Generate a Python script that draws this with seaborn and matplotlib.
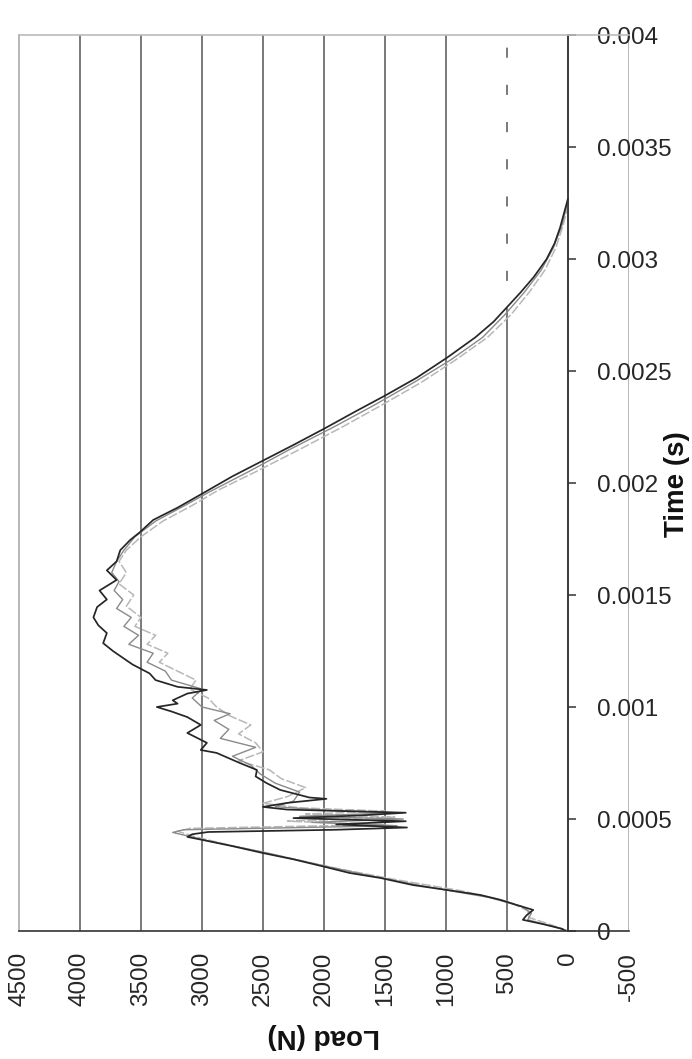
import matplotlib
matplotlib.use("Agg")
import matplotlib.pyplot as plt
import seaborn as sns
import numpy as np

sns.set_theme(style="white")
plt.rcParams['font.family'] = ['Liberation Sans', 'DejaVu Sans']

# Test 1 (dark trace): time in ms, load in N
time_a = [0.000, 0.010, 0.030, 0.050, 0.070, 0.094, 0.116, 0.140, 0.161, 0.183, 0.205, 0.237, 0.259, 0.286, 0.320,
          0.348, 0.380, 0.406, 0.420, 0.432, 0.442, 0.452, 0.462, 0.476, 0.490, 0.504, 0.516, 0.528, 0.542, 0.554,
          0.572, 0.590, 0.596, 0.630, 0.660, 0.690, 0.719, 0.750, 0.795, 0.808, 0.840, 0.884, 0.920, 0.955, 0.980,
          1.000, 1.015, 1.030, 1.060, 1.076, 1.090, 1.120, 1.150, 1.190, 1.250, 1.285, 1.330, 1.365, 1.400, 1.446,
          1.480, 1.520, 1.567, 1.610, 1.650, 1.700, 1.745, 1.780, 1.835, 1.890, 1.955, 2.030, 2.100, 2.170, 2.245,
          2.320, 2.390, 2.470, 2.560, 2.650, 2.720, 2.785, 2.850, 2.920, 3.000, 3.070, 3.140, 3.200, 3.270]
load_a = [20, 50, 200, 370, 340, 285, 420, 560, 720, 990, 1270, 1540, 1790, 1990, 2250,
          2500, 2760, 2990, 3120, 3080, 2950, 1900, 1320, 1900, 1330, 2250, 1700, 1330, 2300, 2500,
          2300, 1980, 2120, 2360, 2470, 2560, 2550, 2690, 2880, 3010, 2960, 3120, 3010, 3120, 3250,
          3370, 3200, 3240, 3120, 2960, 3200, 3380, 3430, 3570, 3730, 3810, 3780, 3850, 3890, 3860,
          3780, 3840, 3700, 3780, 3700, 3670, 3590, 3510, 3400, 3200, 2990, 2750, 2500, 2250, 1990,
          1740, 1500, 1240, 990, 760, 610, 500, 390, 280, 175, 110, 65, 35, 0]

# Test 2 (mid grey trace)
time_b = [0.000, 0.020, 0.050, 0.080, 0.110, 0.150, 0.200, 0.250, 0.300, 0.350, 0.400, 0.440, 0.452, 0.470, 0.485,
          0.500, 0.512, 0.528, 0.540, 0.555, 0.580, 0.620, 0.660, 0.700, 0.740, 0.780, 0.820, 0.860, 0.900, 0.940,
          0.970, 1.000, 1.040, 1.080, 1.120, 1.160, 1.200, 1.240, 1.280, 1.320, 1.360, 1.400, 1.440, 1.480, 1.520,
          1.560, 1.600, 1.650, 1.700, 1.760, 1.830, 1.900, 1.960, 2.050, 2.150, 2.250, 2.350, 2.450, 2.550, 2.650,
          2.750, 2.850, 2.950, 3.050, 3.150, 3.250, 3.290]
load_b = [0, 120, 330, 300, 380, 650, 1180, 1650, 2080, 2480, 2930, 3240, 3150, 1400, 2100,
          1350, 2200, 1400, 2000, 2400, 2250, 2200, 2400, 2520, 2600, 2750, 2560, 2850, 2780, 2900,
          2770, 3000, 3080, 3000, 3250, 3300, 3450, 3400, 3600, 3520, 3640, 3580, 3700, 3650, 3720,
          3680, 3740, 3700, 3640, 3550, 3380, 3140, 2940, 2620, 2280, 1920, 1580, 1260, 960, 700,
          520, 360, 220, 120, 50, 5, 0]

# Test 3 (light grey trace)
time_c = [0.000, 0.030, 0.060, 0.090, 0.130, 0.180, 0.230, 0.280, 0.330, 0.380, 0.420, 0.445, 0.458, 0.475, 0.490,
          0.508, 0.522, 0.535, 0.550, 0.570, 0.600, 0.640, 0.680, 0.720, 0.760, 0.800, 0.840, 0.880, 0.920, 0.960,
          1.000, 1.040, 1.080, 1.120, 1.160, 1.200, 1.240, 1.280, 1.320, 1.360, 1.400, 1.450, 1.500, 1.550, 1.600,
          1.650, 1.700, 1.760, 1.830, 1.900, 1.970, 2.050, 2.150, 2.250, 2.350, 2.450, 2.550, 2.650, 2.750, 2.850,
          2.950, 3.050, 3.150, 3.240]
load_c = [0, 150, 320, 330, 480, 880, 1420, 1900, 2320, 2750, 3050, 3200, 3100, 1500, 2300,
          1420, 2150, 1500, 2200, 2500, 2300, 2150, 2350, 2450, 2700, 2500, 2560, 2700, 2600, 2770,
          2880, 2950, 3100, 3050, 3200, 3350, 3280, 3450, 3380, 3550, 3500, 3620, 3560, 3680, 3620,
          3680, 3620, 3500, 3320, 3080, 2860, 2560, 2200, 1850, 1520, 1200, 920, 660, 470, 320,
          190, 100, 40, 0]

load_ticks = [4500, 4000, 3500, 3000, 2500, 2000, 1500, 1000, 500, 0, -500]
time_ticks = [0, 0.0005, 0.001, 0.0015, 0.002, 0.0025, 0.003, 0.0035, 0.004]
time_labels = ['0', '0.0005', '0.001', '0.0015', '0.002', '0.0025', '0.003', '0.0035', '0.004']

# threshold line segment at 500 N (dashed part of the grid)
thresh_load = 500
thresh_start = 0.00278

fig = plt.figure(figsize=(6.92, 10.59), dpi=100)
ax = fig.add_axes([19 / 692, 128 / 1059, 610 / 692, 896 / 1059])

# vertical grid (load) lines
ax.vlines(load_ticks[1:-1], 0, time_ticks[-1], color='#555555', lw=1.1, zorder=0.5)
ax.axvline(load_ticks[-1], color='#aaaaaa', lw=1.2, zorder=0.5)
# dashed look on the 500 N line above ~2.8 ms
ax.plot([thresh_load, thresh_load], [thresh_start, time_ticks[-1]], color='white', lw=2.6,
        linestyle=(0, (7.5, 2.8)), zorder=0.6)

series = [
    (time_c, load_c, '#b8b8b8', 1.1, (0, (6, 1.5))),
    (time_b, load_b, '#8a8a8a', 1.0, '-'),
    (time_a, load_a, '#262626', 1.25, '-'),
]
for t_ms, load, col, lw, ls in series:
    t = np.array(t_ms) / 1000.0
    sns.lineplot(x=load, y=t, sort=False, estimator=None, orient='y', ax=ax,
                 color=col, lw=lw, linestyle=ls, zorder=2)

ax.set_xlim(4500, -500)
ax.set_ylim(0, 0.004)

ax.set_xticks(load_ticks)
ax.set_xticklabels([str(v) for v in load_ticks], rotation=90)
ax.set_yticks(time_ticks)
ax.set_yticklabels(time_labels, rotation=90, va='center')

# time axis sits on the 0 N line, on the right
ax.yaxis.tick_right()
ax.spines['right'].set_position(('data', 0))
ax.spines['right'].set_color('#333333')
ax.spines['bottom'].set_color('#333333')
ax.spines['top'].set_color('#bbbbbb')
ax.spines['left'].set_color('#aaaaaa')
for s in ax.spines.values():
    s.set_linewidth(1.2)

ax.tick_params(axis='x', direction='out', length=6, width=1.1, color='#333333', pad=9, labelsize=17.5)
ax.tick_params(axis='y', direction='out', length=6, width=1.1, color='#333333', pad=15, labelsize=17.5)
ax.set_xlabel('')
ax.set_ylabel('')

# axis titles (chart is shown turned a quarter turn)
fig.text(324 / 692, 1 - 1036 / 1059, 'Load (N)', rotation=180, ha='center', va='center',
         fontsize=20, fontweight='bold', color='#111111')
fig.text(677 / 692, 1 - 484 / 1059, 'Time (s)', rotation=90, ha='center', va='center',
         fontsize=20, fontweight='bold', color='#111111')

fig.savefig('out.png', dpi=100)
plt.close(fig)
